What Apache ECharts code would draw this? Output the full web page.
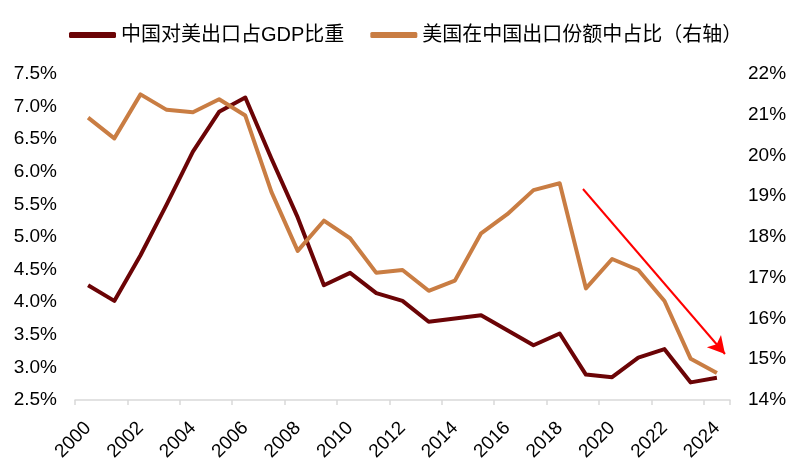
<!DOCTYPE html>
<html>
<head>
<meta charset="utf-8">
<script src="https://cdn.jsdelivr.net/npm/echarts@6/dist/echarts.min.js"></script>
<style>
html,body{margin:0;padding:0;background:#fff;}
#chart{width:802px;height:468px;}
</style>
</head>
<body>
<div id="chart"></div>
<script>
const years = ['2000','2001','2002','2003','2004','2005','2006','2007','2008','2009','2010','2011','2012','2013','2014','2015','2016','2017','2018','2019','2020','2021','2022','2023','2024'];
const exportToUsGdp = [4.26,4.02,4.72,5.50,6.31,6.92,7.14,6.20,5.30,4.26,4.45,4.14,4.02,3.70,3.75,3.80,3.57,3.34,3.52,2.89,2.85,3.15,3.28,2.77,2.84];
const usShareOfExports = [20.93,20.42,21.50,21.12,21.06,21.38,20.98,19.10,17.66,18.40,17.97,17.12,17.19,16.68,16.93,18.09,18.56,19.15,19.32,16.74,17.46,17.19,16.43,15.01,14.66];
const seriesNames = ['中国对美出口占GDP比重','美国在中国出口份额中占比（右轴）'];

const FONT = '"Liberation Sans", Arial, "Noto Sans CJK SC", sans-serif';
const chart = echarts.init(document.getElementById('chart'));
chart.setOption({
  animation: false,
  textStyle: { fontFamily: FONT, color: '#000' },
  legend: {
    left: 64, top: 20,
    itemWidth: 47, itemHeight: 6, itemGap: 26,
    icon: 'roundRect',
    textStyle: { fontSize: 20, color: '#000', fontFamily: FONT },
    data: seriesNames
  },
  grid: { left: 75, right: 72, top: 74, bottom: 68, containLabel: false },
  xAxis: {
    type: 'category',
    data: years,
    boundaryGap: true,
    axisLine: { lineStyle: { color: '#d9d9d9', width: 1.5 } },
    axisTick: { show: true, interval: 1, length: 5, lineStyle: { color: '#d9d9d9', width: 1.5 } },
    axisLabel: { interval: 1, rotate: 45, fontSize: 19, color: '#000', margin: 25, fontFamily: FONT },
    splitLine: { show: false }
  },
  yAxis: [
    {
      type: 'value', min: 2.5, max: 7.5, interval: 0.5,
      axisLine: { show: false }, axisTick: { show: false }, splitLine: { show: false },
      axisLabel: { fontSize: 19, color: '#000', margin: 18, fontFamily: FONT, formatter: v => v.toFixed(1) + '%' }
    },
    {
      type: 'value', min: 14, max: 22, interval: 1,
      axisLine: { show: false }, axisTick: { show: false }, splitLine: { show: false },
      axisLabel: { fontSize: 19, color: '#000', margin: 18, fontFamily: FONT, formatter: v => v + '%' }
    }
  ],
  series: [
    {
      name: seriesNames[0], type: 'line', yAxisIndex: 0,
      data: exportToUsGdp, showSymbol: false, symbol: 'none',
      itemStyle: { color: '#6b0406' },
      lineStyle: { color: '#6b0406', width: 4, join: 'round' }
    },
    {
      name: seriesNames[1], type: 'line', yAxisIndex: 1,
      data: usShareOfExports, showSymbol: false, symbol: 'none',
      itemStyle: { color: '#c97d43' },
      lineStyle: { color: '#c97d43', width: 4, join: 'round' },
      markLine: {
        silent: true,
        animation: false,
        label: { show: false },
        symbol: ['none', 'arrow'],
        symbolSize: [14, 17],
        lineStyle: { color: '#ff0000', width: 2, type: 'solid' },
        data: [[ { x: 583, y: 189 }, { x: 725, y: 354 } ]]
      }
    }
  ]
});
</script>
</body>
</html>
